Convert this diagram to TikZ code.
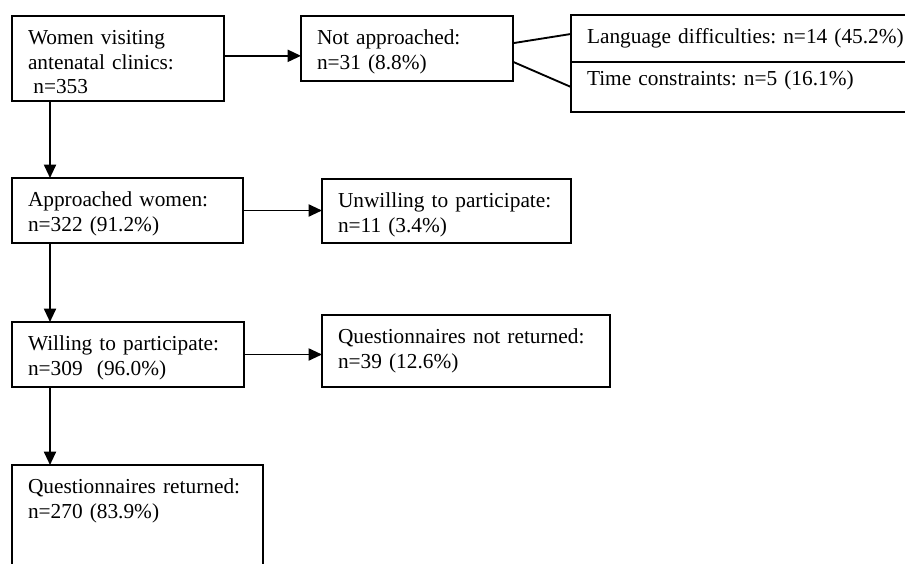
\documentclass[tikz,border=0pt]{standalone}
\usepackage{fontspec}
\setmainfont{Liberation Serif}
\frenchspacing
\usetikzlibrary{arrows.meta,positioning}
\tikzset{
	box/.style={draw, line width=1.4pt, outer sep=0pt, anchor=north west, align=left, inner xsep=12pt, inner ysep=3pt, text height=18.5pt, font=\fontsize{16}{18.4}\selectfont\frenchspacing},
	flow/.style={line width=1.4pt, -{Triangle[length=10pt, width=9pt]}},
	link/.style={line width=1.4pt}
}

\begin{document}
\begin{tikzpicture}[x=0.75pt, y=-0.75pt]
		%%%%% START %%%%%
		\useasboundingbox (0, 0) rectangle (905, 563);
		\clip (0, 0) rectangle (905, 563);
		
		\node[box, text width=135pt, text depth=39.25pt] (women) at (12, 16) {Women visiting\\antenatal clinics:\\\hspace*{4pt}n=353};
		\node[box, text width=135pt, text depth=24.25pt] (notappr) at (301, 16) {Not approached:\\n=31 (8.8\%)};
		
		\node[box, text width=262pt, text depth=10.75pt] (lang) at (571, 15) {Language difficulties: n=14 (45.2\%)};
		\node[box, text width=262pt, text height=15pt, text depth=16.5pt] (time) at (lang.south west) {Time constraints: n=5 (16.1\%)};
		
		\node[box, text width=149.25pt, text depth=24.25pt] (approached) at (12, 178) {Approached women:\\n=322 (91.2\%)};
		\node[box, text width=162.75pt, text depth=23.5pt] (unwilling) at (322, 179) {Unwilling to participate:\\n=11 (3.4\%)};
		
		\node[box, text width=150pt, text depth=24.25pt] (willing) at (12, 322) {Willing to participate:\\n=309\ \ (96.0\%)};
		\node[box, text width=192pt, text depth=29.5pt] (notret) at (322, 315) {Questionnaires not returned:\\n=39 (12.6\%)};
		
		\node[box, text width=164.25pt, text depth=100pt] (returned) at (12, 465) {Questionnaires returned:\\n=270 (83.9\%)};
		
		% side branches
		\draw[flow] ([yshift=2pt]women.east) -- ([yshift=2pt]women.east -| notappr.west);
		\draw[flow] (approached.east) -- (approached.east -| unwilling.west);
		\draw[flow] (willing.east) -- (willing.east -| notret.west);
		
		\draw[link] ([yshift=4pt]notappr.east) -- ([yshift=3.4pt]lang.west);
		\draw[link] ([yshift=-10pt]notappr.east) -- (time.west);
		
		% main column
		\draw[flow] ([xshift=28.5pt]women.south west) coordinate (s1) -- (s1 |- approached.north);
		\draw[flow] ([xshift=28.5pt]approached.south west) coordinate (s2) -- (s2 |- willing.north);
		\draw[flow] ([xshift=28.5pt]willing.south west) coordinate (s3) -- (s3 |- returned.north);
		
		%%%%% END %%%%%
	\end{tikzpicture}
\end{document}
